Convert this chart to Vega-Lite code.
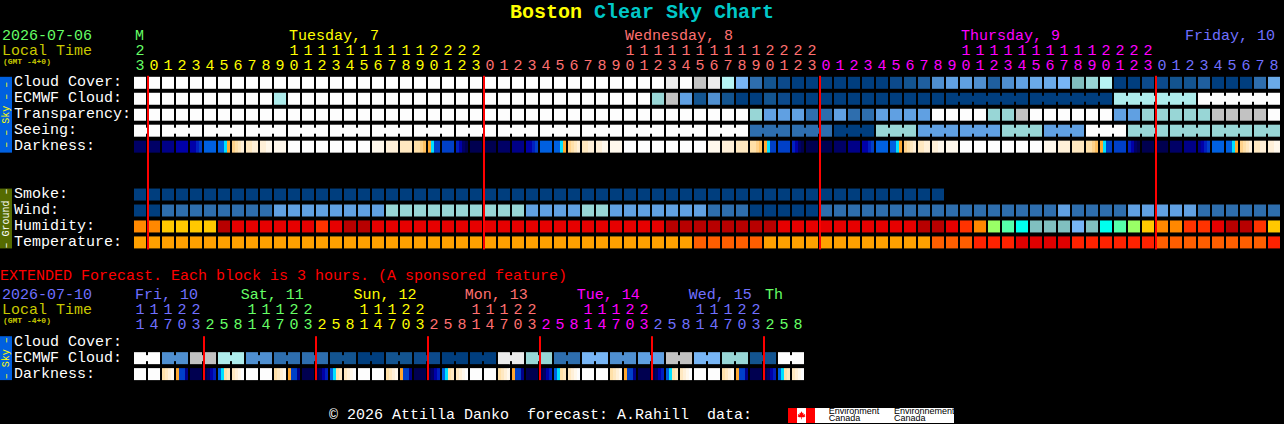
{
"$schema":"https://vega.github.io/schema/vega-lite/v6.json",
"width":1284,"height":424,"padding":0,
"autosize":{"type":"fit","contains":"padding"},
"background":"#000000",
"config":{"view":{"stroke":null}},
"datasets":{
"bands":[
{"t":-10,"t2":-9.143,"r":-0.375,"r2":4.375,"v":"sky"},
{"t":-10,"t2":-9.143,"r":6.625,"r2":10.375,"v":"ground"},
{"t":-10,"t2":-9.143,"r":15.875,"r2":18.625,"v":"sky"},
{"t":46.286,"t2":48.214,"r":20.375,"r2":21.3125,"v":"red"},
{"t":46.929,"t2":47.571,"r":20.375,"r2":21.3125,"v":"white"},
{"t":48.214,"t2":58.143,"r":20.375,"r2":21.3125,"v":"white"}
],
"cells":[
{"t":0,"r":0,"v":"o100"},{"t":1,"r":0,"v":"o100"},{"t":2,"r":0,"v":"o100"},{"t":3,"r":0,"v":"o100"},{"t":4,"r":0,"v":"o100"},{"t":5,"r":0,"v":"o100"},{"t":6,"r":0,"v":"o100"},{"t":7,"r":0,"v":"o100"},{"t":8,"r":0,"v":"o100"},{"t":9,"r":0,"v":"o100"},{"t":10,"r":0,"v":"o100"},{"t":11,"r":0,"v":"o100"},{"t":12,"r":0,"v":"o100"},{"t":13,"r":0,"v":"o100"},{"t":14,"r":0,"v":"o100"},{"t":15,"r":0,"v":"o100"},{"t":16,"r":0,"v":"o100"},{"t":17,"r":0,"v":"o100"},{"t":18,"r":0,"v":"o100"},{"t":19,"r":0,"v":"o100"},{"t":20,"r":0,"v":"o100"},{"t":21,"r":0,"v":"o100"},{"t":22,"r":0,"v":"o100"},{"t":23,"r":0,"v":"o100"},{"t":24,"r":0,"v":"o100"},{"t":25,"r":0,"v":"o100"},{"t":26,"r":0,"v":"o100"},{"t":27,"r":0,"v":"o100"},{"t":28,"r":0,"v":"o100"},{"t":29,"r":0,"v":"o100"},{"t":30,"r":0,"v":"o100"},{"t":31,"r":0,"v":"o100"},{"t":32,"r":0,"v":"o100"},{"t":33,"r":0,"v":"o100"},{"t":34,"r":0,"v":"o100"},{"t":35,"r":0,"v":"o100"},{"t":36,"r":0,"v":"o100"},{"t":37,"r":0,"v":"o100"},{"t":38,"r":0,"v":"o90"},{"t":39,"r":0,"v":"o100"},{"t":40,"r":0,"v":"o80"},{"t":41,"r":0,"v":"o90"},{"t":42,"r":0,"v":"o75"},{"t":43,"r":0,"v":"o55"},{"t":44,"r":0,"v":"o30"},{"t":45,"r":0,"v":"o20"},{"t":46,"r":0,"v":"o10"},{"t":47,"r":0,"v":"o0"},{"t":48,"r":0,"v":"o0"},{"t":49,"r":0,"v":"o0"},{"t":50,"r":0,"v":"o0"},{"t":51,"r":0,"v":"o0"},{"t":52,"r":0,"v":"o0"},{"t":53,"r":0,"v":"o0"},{"t":54,"r":0,"v":"o10"},{"t":55,"r":0,"v":"o20"},{"t":56,"r":0,"v":"o25"},{"t":57,"r":0,"v":"o40"},{"t":58,"r":0,"v":"o45"},{"t":59,"r":0,"v":"o45"},{"t":60,"r":0,"v":"o40"},{"t":61,"r":0,"v":"o25"},{"t":62,"r":0,"v":"o40"},{"t":63,"r":0,"v":"o45"},{"t":64,"r":0,"v":"o50"},{"t":65,"r":0,"v":"o50"},{"t":66,"r":0,"v":"o55"},{"t":67,"r":0,"v":"o60"},{"t":68,"r":0,"v":"o65"},{"t":69,"r":0,"v":"o75"},{"t":70,"r":0,"v":"o0"},{"t":71,"r":0,"v":"o0"},{"t":72,"r":0,"v":"o10"},{"t":73,"r":0,"v":"o10"},{"t":74,"r":0,"v":"o20"},{"t":75,"r":0,"v":"o20"},{"t":76,"r":0,"v":"o25"},{"t":77,"r":0,"v":"o0"},{"t":78,"r":0,"v":"o0"},{"t":79,"r":0,"v":"o0"},{"t":80,"r":0,"v":"o30"},{"t":81,"r":0,"v":"o50"},
{"t":0,"r":1,"v":"o100"},{"t":1,"r":1,"v":"o100"},{"t":2,"r":1,"v":"o100"},{"t":3,"r":1,"v":"o100"},{"t":4,"r":1,"v":"o100"},{"t":5,"r":1,"v":"o100"},{"t":6,"r":1,"v":"o100"},{"t":7,"r":1,"v":"o100"},{"t":8,"r":1,"v":"o100"},{"t":9,"r":1,"v":"o100"},{"t":10,"r":1,"v":"o70"},{"t":11,"r":1,"v":"o100"},{"t":12,"r":1,"v":"o100"},{"t":13,"r":1,"v":"o100"},{"t":14,"r":1,"v":"o100"},{"t":15,"r":1,"v":"o100"},{"t":16,"r":1,"v":"o100"},{"t":17,"r":1,"v":"o100"},{"t":18,"r":1,"v":"o100"},{"t":19,"r":1,"v":"o100"},{"t":20,"r":1,"v":"o100"},{"t":21,"r":1,"v":"o100"},{"t":22,"r":1,"v":"o100"},{"t":23,"r":1,"v":"o100"},{"t":24,"r":1,"v":"o100"},{"t":25,"r":1,"v":"o100"},{"t":26,"r":1,"v":"o100"},{"t":27,"r":1,"v":"o100"},{"t":28,"r":1,"v":"o100"},{"t":29,"r":1,"v":"o100"},{"t":30,"r":1,"v":"o100"},{"t":31,"r":1,"v":"o100"},{"t":32,"r":1,"v":"o100"},{"t":33,"r":1,"v":"o100"},{"t":34,"r":1,"v":"o100"},{"t":35,"r":1,"v":"o100"},{"t":36,"r":1,"v":"o100"},{"t":37,"r":1,"v":"o65"},{"t":38,"r":1,"v":"o80"},{"t":39,"r":1,"v":"o45"},{"t":40,"r":1,"v":"o20"},{"t":41,"r":1,"v":"o40"},{"t":42,"r":1,"v":"o20"},{"t":43,"r":1,"v":"o0"},{"t":44,"r":1,"v":"o0"},{"t":45,"r":1,"v":"o20"},{"t":46,"r":1,"v":"o10"},{"t":47,"r":1,"v":"o0"},{"t":48,"r":1,"v":"o0"},{"t":49,"r":1,"v":"o0"},{"t":50,"r":1,"v":"o0"},{"t":51,"r":1,"v":"o0"},{"t":52,"r":1,"v":"o0"},{"t":53,"r":1,"v":"o0"},{"t":54,"r":1,"v":"o0"},{"t":55,"r":1,"v":"o0"},{"t":56,"r":1,"v":"o0"},{"t":57,"r":1,"v":"o0"},{"t":58,"r":1,"v":"o0"},{"t":59,"r":1,"v":"o0"},{"t":60,"r":1,"v":"o0"},{"t":61,"r":1,"v":"o0"},{"t":62,"r":1,"v":"o0"},{"t":63,"r":1,"v":"o0"},{"t":64,"r":1,"v":"o0"},{"t":65,"r":1,"v":"o0"},{"t":66,"r":1,"v":"o0"},{"t":67,"r":1,"v":"o0"},{"t":68,"r":1,"v":"o0"},{"t":69,"r":1,"v":"o0"},{"t":70,"r":1,"v":"o70"},{"t":71,"r":1,"v":"o70"},{"t":72,"r":1,"v":"o70"},{"t":73,"r":1,"v":"o70"},{"t":74,"r":1,"v":"o70"},{"t":75,"r":1,"v":"o70"},{"t":76,"r":1,"v":"o100"},{"t":77,"r":1,"v":"o100"},{"t":78,"r":1,"v":"o100"},{"t":79,"r":1,"v":"o100"},{"t":80,"r":1,"v":"o100"},{"t":81,"r":1,"v":"o100"},
{"t":0,"r":2,"v":"o100"},{"t":1,"r":2,"v":"o100"},{"t":2,"r":2,"v":"o100"},{"t":3,"r":2,"v":"o100"},{"t":4,"r":2,"v":"o100"},{"t":5,"r":2,"v":"o100"},{"t":6,"r":2,"v":"o100"},{"t":7,"r":2,"v":"o100"},{"t":8,"r":2,"v":"o100"},{"t":9,"r":2,"v":"o100"},{"t":10,"r":2,"v":"o100"},{"t":11,"r":2,"v":"o100"},{"t":12,"r":2,"v":"o100"},{"t":13,"r":2,"v":"o100"},{"t":14,"r":2,"v":"o100"},{"t":15,"r":2,"v":"o100"},{"t":16,"r":2,"v":"o100"},{"t":17,"r":2,"v":"o100"},{"t":18,"r":2,"v":"o100"},{"t":19,"r":2,"v":"o100"},{"t":20,"r":2,"v":"o100"},{"t":21,"r":2,"v":"o100"},{"t":22,"r":2,"v":"o100"},{"t":23,"r":2,"v":"o100"},{"t":24,"r":2,"v":"o100"},{"t":25,"r":2,"v":"o100"},{"t":26,"r":2,"v":"o100"},{"t":27,"r":2,"v":"o100"},{"t":28,"r":2,"v":"o100"},{"t":29,"r":2,"v":"o100"},{"t":30,"r":2,"v":"o100"},{"t":31,"r":2,"v":"o100"},{"t":32,"r":2,"v":"o100"},{"t":33,"r":2,"v":"o100"},{"t":34,"r":2,"v":"o100"},{"t":35,"r":2,"v":"o100"},{"t":36,"r":2,"v":"o100"},{"t":37,"r":2,"v":"o100"},{"t":38,"r":2,"v":"o100"},{"t":39,"r":2,"v":"o100"},{"t":40,"r":2,"v":"o100"},{"t":41,"r":2,"v":"o100"},{"t":42,"r":2,"v":"o100"},{"t":43,"r":2,"v":"o100"},{"t":44,"r":2,"v":"o65"},{"t":45,"r":2,"v":"o45"},{"t":46,"r":2,"v":"o45"},{"t":47,"r":2,"v":"o45"},{"t":48,"r":2,"v":"o30"},{"t":49,"r":2,"v":"o30"},{"t":50,"r":2,"v":"o45"},{"t":51,"r":2,"v":"o30"},{"t":52,"r":2,"v":"o30"},{"t":53,"r":2,"v":"o45"},{"t":54,"r":2,"v":"o45"},{"t":55,"r":2,"v":"o45"},{"t":56,"r":2,"v":"o45"},{"t":57,"r":2,"v":"o100"},{"t":58,"r":2,"v":"o100"},{"t":59,"r":2,"v":"o100"},{"t":60,"r":2,"v":"o100"},{"t":61,"r":2,"v":"o65"},{"t":62,"r":2,"v":"o65"},{"t":63,"r":2,"v":"o80"},{"t":64,"r":2,"v":"o100"},{"t":65,"r":2,"v":"o100"},{"t":66,"r":2,"v":"o100"},{"t":67,"r":2,"v":"o100"},{"t":68,"r":2,"v":"o100"},{"t":69,"r":2,"v":"o100"},{"t":70,"r":2,"v":"o45"},{"t":71,"r":2,"v":"o45"},{"t":72,"r":2,"v":"o65"},{"t":73,"r":2,"v":"o65"},{"t":74,"r":2,"v":"o65"},{"t":75,"r":2,"v":"o65"},{"t":76,"r":2,"v":"o65"},{"t":77,"r":2,"v":"o80"},{"t":78,"r":2,"v":"o80"},{"t":79,"r":2,"v":"o80"},{"t":80,"r":2,"v":"o80"},{"t":81,"r":2,"v":"o100"},
{"t":0,"r":3,"v":"o100"},{"t":1,"r":3,"v":"o100"},{"t":2,"r":3,"v":"o100"},{"t":3,"r":3,"v":"o100"},{"t":4,"r":3,"v":"o100"},{"t":5,"r":3,"v":"o100"},{"t":6,"r":3,"v":"o100"},{"t":7,"r":3,"v":"o100"},{"t":8,"r":3,"v":"o100"},{"t":9,"r":3,"v":"o100"},{"t":10,"r":3,"v":"o100"},{"t":11,"r":3,"v":"o100"},{"t":12,"r":3,"v":"o100"},{"t":13,"r":3,"v":"o100"},{"t":14,"r":3,"v":"o100"},{"t":15,"r":3,"v":"o100"},{"t":16,"r":3,"v":"o100"},{"t":17,"r":3,"v":"o100"},{"t":18,"r":3,"v":"o100"},{"t":19,"r":3,"v":"o100"},{"t":20,"r":3,"v":"o100"},{"t":21,"r":3,"v":"o100"},{"t":22,"r":3,"v":"o100"},{"t":23,"r":3,"v":"o100"},{"t":24,"r":3,"v":"o100"},{"t":25,"r":3,"v":"o100"},{"t":26,"r":3,"v":"o100"},{"t":27,"r":3,"v":"o100"},{"t":28,"r":3,"v":"o100"},{"t":29,"r":3,"v":"o100"},{"t":30,"r":3,"v":"o100"},{"t":31,"r":3,"v":"o100"},{"t":32,"r":3,"v":"o100"},{"t":33,"r":3,"v":"o100"},{"t":34,"r":3,"v":"o100"},{"t":35,"r":3,"v":"o100"},{"t":36,"r":3,"v":"o100"},{"t":37,"r":3,"v":"o100"},{"t":38,"r":3,"v":"o100"},{"t":39,"r":3,"v":"o100"},{"t":40,"r":3,"v":"o100"},{"t":41,"r":3,"v":"o100"},{"t":42,"r":3,"v":"o100"},{"t":43,"r":3,"v":"o100"},{"t":44,"r":3,"v":"o30"},{"t":45,"r":3,"v":"o30"},{"t":46,"r":3,"v":"o30"},{"t":47,"r":3,"v":"o30"},{"t":48,"r":3,"v":"o30"},{"t":49,"r":3,"v":"o30"},{"t":50,"r":3,"v":"o0"},{"t":51,"r":3,"v":"o0"},{"t":52,"r":3,"v":"o0"},{"t":53,"r":3,"v":"o65"},{"t":54,"r":3,"v":"o65"},{"t":55,"r":3,"v":"o65"},{"t":56,"r":3,"v":"o45"},{"t":57,"r":3,"v":"o45"},{"t":58,"r":3,"v":"o45"},{"t":59,"r":3,"v":"o45"},{"t":60,"r":3,"v":"o45"},{"t":61,"r":3,"v":"o45"},{"t":62,"r":3,"v":"o65"},{"t":63,"r":3,"v":"o65"},{"t":64,"r":3,"v":"o65"},{"t":65,"r":3,"v":"o45"},{"t":66,"r":3,"v":"o45"},{"t":67,"r":3,"v":"o45"},{"t":68,"r":3,"v":"o100"},{"t":69,"r":3,"v":"o100"},{"t":70,"r":3,"v":"o100"},{"t":71,"r":3,"v":"o65"},{"t":72,"r":3,"v":"o65"},{"t":73,"r":3,"v":"o65"},{"t":74,"r":3,"v":"o65"},{"t":75,"r":3,"v":"o65"},{"t":76,"r":3,"v":"o65"},{"t":77,"r":3,"v":"o65"},{"t":78,"r":3,"v":"o65"},{"t":79,"r":3,"v":"o65"},{"t":80,"r":3,"v":"o65"},{"t":81,"r":3,"v":"o65"},
{"t":0,"r":4,"v":"d1"},{"t":1,"r":4,"v":"d1"},{"t":2,"r":4,"v":"d2"},{"t":3,"r":4,"v":"d3"},{"t":5,"r":4,"v":"d6"},{"t":10,"r":4,"v":"s6"},{"t":11,"r":4,"v":"o100"},{"t":12,"r":4,"v":"o100"},{"t":13,"r":4,"v":"o100"},{"t":14,"r":4,"v":"o100"},{"t":15,"r":4,"v":"o100"},{"t":16,"r":4,"v":"o100"},{"t":17,"r":4,"v":"s6"},{"t":18,"r":4,"v":"s5"},{"t":19,"r":4,"v":"s4"},{"t":22,"r":4,"v":"d5"},{"t":24,"r":4,"v":"d0"},{"t":25,"r":4,"v":"d0"},{"t":26,"r":4,"v":"d1"},{"t":27,"r":4,"v":"d2"},{"t":29,"r":4,"v":"d6"},{"t":34,"r":4,"v":"s6"},{"t":35,"r":4,"v":"o100"},{"t":36,"r":4,"v":"o100"},{"t":37,"r":4,"v":"o100"},{"t":38,"r":4,"v":"o100"},{"t":39,"r":4,"v":"o100"},{"t":40,"r":4,"v":"o100"},{"t":41,"r":4,"v":"s6"},{"t":42,"r":4,"v":"s5"},{"t":43,"r":4,"v":"s4"},{"t":46,"r":4,"v":"d5"},{"t":48,"r":4,"v":"d0"},{"t":49,"r":4,"v":"d0"},{"t":50,"r":4,"v":"d1"},{"t":51,"r":4,"v":"d2"},{"t":53,"r":4,"v":"d6"},{"t":58,"r":4,"v":"s6"},{"t":59,"r":4,"v":"o100"},{"t":60,"r":4,"v":"o100"},{"t":61,"r":4,"v":"o100"},{"t":62,"r":4,"v":"o100"},{"t":63,"r":4,"v":"o100"},{"t":64,"r":4,"v":"o100"},{"t":65,"r":4,"v":"s6"},{"t":66,"r":4,"v":"s5"},{"t":67,"r":4,"v":"s4"},{"t":70,"r":4,"v":"d5"},{"t":72,"r":4,"v":"d0"},{"t":73,"r":4,"v":"d0"},{"t":74,"r":4,"v":"d1"},{"t":75,"r":4,"v":"d2"},{"t":77,"r":4,"v":"d6"},
{"t":0,"r":7,"v":"o0"},{"t":1,"r":7,"v":"o0"},{"t":2,"r":7,"v":"o0"},{"t":3,"r":7,"v":"o0"},{"t":4,"r":7,"v":"o0"},{"t":5,"r":7,"v":"o0"},{"t":6,"r":7,"v":"o0"},{"t":7,"r":7,"v":"o0"},{"t":8,"r":7,"v":"o0"},{"t":9,"r":7,"v":"o0"},{"t":10,"r":7,"v":"o0"},{"t":11,"r":7,"v":"o0"},{"t":12,"r":7,"v":"o0"},{"t":13,"r":7,"v":"o0"},{"t":14,"r":7,"v":"o0"},{"t":15,"r":7,"v":"o0"},{"t":16,"r":7,"v":"o0"},{"t":17,"r":7,"v":"o0"},{"t":18,"r":7,"v":"o0"},{"t":19,"r":7,"v":"o0"},{"t":20,"r":7,"v":"o0"},{"t":21,"r":7,"v":"o0"},{"t":22,"r":7,"v":"o0"},{"t":23,"r":7,"v":"o0"},{"t":24,"r":7,"v":"o0"},{"t":25,"r":7,"v":"o0"},{"t":26,"r":7,"v":"o0"},{"t":27,"r":7,"v":"o0"},{"t":28,"r":7,"v":"o0"},{"t":29,"r":7,"v":"o0"},{"t":30,"r":7,"v":"o0"},{"t":31,"r":7,"v":"o0"},{"t":32,"r":7,"v":"o0"},{"t":33,"r":7,"v":"o0"},{"t":34,"r":7,"v":"o0"},{"t":35,"r":7,"v":"o0"},{"t":36,"r":7,"v":"o0"},{"t":37,"r":7,"v":"o0"},{"t":38,"r":7,"v":"o0"},{"t":39,"r":7,"v":"o0"},{"t":40,"r":7,"v":"o0"},{"t":41,"r":7,"v":"o0"},{"t":42,"r":7,"v":"o0"},{"t":43,"r":7,"v":"o0"},{"t":44,"r":7,"v":"o0"},{"t":45,"r":7,"v":"o0"},{"t":46,"r":7,"v":"o0"},{"t":47,"r":7,"v":"o0"},{"t":48,"r":7,"v":"o0"},{"t":49,"r":7,"v":"o0"},{"t":50,"r":7,"v":"o0"},{"t":51,"r":7,"v":"o0"},{"t":52,"r":7,"v":"o0"},{"t":53,"r":7,"v":"o0"},{"t":54,"r":7,"v":"o0"},{"t":55,"r":7,"v":"o0"},{"t":56,"r":7,"v":"o0"},{"t":57,"r":7,"v":"o0"},
{"t":0,"r":8,"v":"o0"},{"t":1,"r":8,"v":"o0"},{"t":2,"r":8,"v":"o30"},{"t":3,"r":8,"v":"o30"},{"t":4,"r":8,"v":"o30"},{"t":5,"r":8,"v":"o30"},{"t":6,"r":8,"v":"o30"},{"t":7,"r":8,"v":"o30"},{"t":8,"r":8,"v":"o30"},{"t":9,"r":8,"v":"o30"},{"t":10,"r":8,"v":"o45"},{"t":11,"r":8,"v":"o45"},{"t":12,"r":8,"v":"o45"},{"t":13,"r":8,"v":"o45"},{"t":14,"r":8,"v":"o45"},{"t":15,"r":8,"v":"o45"},{"t":16,"r":8,"v":"o45"},{"t":17,"r":8,"v":"o45"},{"t":18,"r":8,"v":"o65"},{"t":19,"r":8,"v":"o65"},{"t":20,"r":8,"v":"o65"},{"t":21,"r":8,"v":"o65"},{"t":22,"r":8,"v":"o65"},{"t":23,"r":8,"v":"o65"},{"t":24,"r":8,"v":"o65"},{"t":25,"r":8,"v":"o65"},{"t":26,"r":8,"v":"o65"},{"t":27,"r":8,"v":"o65"},{"t":28,"r":8,"v":"o45"},{"t":29,"r":8,"v":"o45"},{"t":30,"r":8,"v":"o45"},{"t":31,"r":8,"v":"o45"},{"t":32,"r":8,"v":"o65"},{"t":33,"r":8,"v":"o65"},{"t":34,"r":8,"v":"o45"},{"t":35,"r":8,"v":"o45"},{"t":36,"r":8,"v":"o45"},{"t":37,"r":8,"v":"o45"},{"t":38,"r":8,"v":"o45"},{"t":39,"r":8,"v":"o45"},{"t":40,"r":8,"v":"o45"},{"t":41,"r":8,"v":"o30"},{"t":42,"r":8,"v":"o30"},{"t":43,"r":8,"v":"o30"},{"t":44,"r":8,"v":"o0"},{"t":45,"r":8,"v":"o0"},{"t":46,"r":8,"v":"o0"},{"t":47,"r":8,"v":"o0"},{"t":48,"r":8,"v":"o0"},{"t":49,"r":8,"v":"o30"},{"t":50,"r":8,"v":"o30"},{"t":51,"r":8,"v":"o30"},{"t":52,"r":8,"v":"o30"},{"t":53,"r":8,"v":"o30"},{"t":54,"r":8,"v":"o30"},{"t":55,"r":8,"v":"o30"},{"t":56,"r":8,"v":"o30"},{"t":57,"r":8,"v":"o30"},{"t":58,"r":8,"v":"o30"},{"t":59,"r":8,"v":"o30"},{"t":60,"r":8,"v":"o30"},{"t":61,"r":8,"v":"o30"},{"t":62,"r":8,"v":"o30"},{"t":63,"r":8,"v":"o30"},{"t":64,"r":8,"v":"o30"},{"t":65,"r":8,"v":"o30"},{"t":66,"r":8,"v":"o45"},{"t":67,"r":8,"v":"o30"},{"t":68,"r":8,"v":"o30"},{"t":69,"r":8,"v":"o30"},{"t":70,"r":8,"v":"o30"},{"t":71,"r":8,"v":"o45"},{"t":72,"r":8,"v":"o45"},{"t":73,"r":8,"v":"o45"},{"t":74,"r":8,"v":"o45"},{"t":75,"r":8,"v":"o45"},{"t":76,"r":8,"v":"o30"},{"t":77,"r":8,"v":"o30"},{"t":78,"r":8,"v":"o30"},{"t":79,"r":8,"v":"o30"},{"t":80,"r":8,"v":"o30"},{"t":81,"r":8,"v":"o30"},
{"t":0,"r":9,"v":"ho"},{"t":1,"r":9,"v":"ho"},{"t":2,"r":9,"v":"hy"},{"t":3,"r":9,"v":"hy"},{"t":4,"r":9,"v":"hy"},{"t":5,"r":9,"v":"hy"},{"t":6,"r":9,"v":"hd"},{"t":7,"r":9,"v":"hr"},{"t":8,"r":9,"v":"hr"},{"t":9,"r":9,"v":"hr"},{"t":10,"r":9,"v":"hr"},{"t":11,"r":9,"v":"hr"},{"t":12,"r":9,"v":"hr"},{"t":13,"r":9,"v":"hf"},{"t":14,"r":9,"v":"hr"},{"t":15,"r":9,"v":"hd"},{"t":16,"r":9,"v":"hd"},{"t":17,"r":9,"v":"hr"},{"t":18,"r":9,"v":"hr"},{"t":19,"r":9,"v":"hr"},{"t":20,"r":9,"v":"hr"},{"t":21,"r":9,"v":"hr"},{"t":22,"r":9,"v":"hr"},{"t":23,"r":9,"v":"hr"},{"t":24,"r":9,"v":"hr"},{"t":25,"r":9,"v":"hr"},{"t":26,"r":9,"v":"hr"},{"t":27,"r":9,"v":"hr"},{"t":28,"r":9,"v":"hr"},{"t":29,"r":9,"v":"hr"},{"t":30,"r":9,"v":"hr"},{"t":31,"r":9,"v":"hr"},{"t":32,"r":9,"v":"hr"},{"t":33,"r":9,"v":"hr"},{"t":34,"r":9,"v":"hr"},{"t":35,"r":9,"v":"hr"},{"t":36,"r":9,"v":"hr"},{"t":37,"r":9,"v":"hr"},{"t":38,"r":9,"v":"hd"},{"t":39,"r":9,"v":"hd"},{"t":40,"r":9,"v":"hd"},{"t":41,"r":9,"v":"hd"},{"t":42,"r":9,"v":"hd"},{"t":43,"r":9,"v":"hd"},{"t":44,"r":9,"v":"hd"},{"t":45,"r":9,"v":"hd"},{"t":46,"r":9,"v":"hr"},{"t":47,"r":9,"v":"hr"},{"t":48,"r":9,"v":"hr"},{"t":49,"r":9,"v":"hr"},{"t":50,"r":9,"v":"hr"},{"t":51,"r":9,"v":"hr"},{"t":52,"r":9,"v":"hr"},{"t":53,"r":9,"v":"hr"},{"t":54,"r":9,"v":"hr"},{"t":55,"r":9,"v":"hr"},{"t":56,"r":9,"v":"hd"},{"t":57,"r":9,"v":"hd"},{"t":58,"r":9,"v":"hr"},{"t":59,"r":9,"v":"hf"},{"t":60,"r":9,"v":"ho"},{"t":61,"r":9,"v":"hl"},{"t":62,"r":9,"v":"hm"},{"t":63,"r":9,"v":"hc"},{"t":64,"r":9,"v":"ht"},{"t":65,"r":9,"v":"ht"},{"t":66,"r":9,"v":"ht"},{"t":67,"r":9,"v":"o55"},{"t":68,"r":9,"v":"ht"},{"t":69,"r":9,"v":"hc"},{"t":70,"r":9,"v":"hm"},{"t":71,"r":9,"v":"hl"},{"t":72,"r":9,"v":"hy"},{"t":73,"r":9,"v":"ho"},{"t":74,"r":9,"v":"ho"},{"t":75,"r":9,"v":"hf"},{"t":76,"r":9,"v":"hf"},{"t":77,"r":9,"v":"hr"},{"t":78,"r":9,"v":"hd"},{"t":79,"r":9,"v":"hd"},{"t":80,"r":9,"v":"hf"},{"t":81,"r":9,"v":"hy"},
{"t":0,"r":10,"v":"to"},{"t":1,"r":10,"v":"to"},{"t":2,"r":10,"v":"to"},{"t":3,"r":10,"v":"to"},{"t":4,"r":10,"v":"to"},{"t":5,"r":10,"v":"to"},{"t":6,"r":10,"v":"to"},{"t":7,"r":10,"v":"to"},{"t":8,"r":10,"v":"to"},{"t":9,"r":10,"v":"to"},{"t":10,"r":10,"v":"to"},{"t":11,"r":10,"v":"to"},{"t":12,"r":10,"v":"to"},{"t":13,"r":10,"v":"to"},{"t":14,"r":10,"v":"to"},{"t":15,"r":10,"v":"to"},{"t":16,"r":10,"v":"to"},{"t":17,"r":10,"v":"to"},{"t":18,"r":10,"v":"to"},{"t":19,"r":10,"v":"to"},{"t":20,"r":10,"v":"to"},{"t":21,"r":10,"v":"to"},{"t":22,"r":10,"v":"to"},{"t":23,"r":10,"v":"to"},{"t":24,"r":10,"v":"to"},{"t":25,"r":10,"v":"to"},{"t":26,"r":10,"v":"to"},{"t":27,"r":10,"v":"to"},{"t":28,"r":10,"v":"to"},{"t":29,"r":10,"v":"to"},{"t":30,"r":10,"v":"to"},{"t":31,"r":10,"v":"to"},{"t":32,"r":10,"v":"to"},{"t":33,"r":10,"v":"to"},{"t":34,"r":10,"v":"to"},{"t":35,"r":10,"v":"to"},{"t":36,"r":10,"v":"to"},{"t":37,"r":10,"v":"to"},{"t":38,"r":10,"v":"to"},{"t":39,"r":10,"v":"to"},{"t":40,"r":10,"v":"td"},{"t":41,"r":10,"v":"td"},{"t":42,"r":10,"v":"td"},{"t":43,"r":10,"v":"td"},{"t":44,"r":10,"v":"td"},{"t":45,"r":10,"v":"to"},{"t":46,"r":10,"v":"to"},{"t":47,"r":10,"v":"to"},{"t":48,"r":10,"v":"to"},{"t":49,"r":10,"v":"to"},{"t":50,"r":10,"v":"to"},{"t":51,"r":10,"v":"to"},{"t":52,"r":10,"v":"to"},{"t":53,"r":10,"v":"to"},{"t":54,"r":10,"v":"to"},{"t":55,"r":10,"v":"to"},{"t":56,"r":10,"v":"to"},{"t":57,"r":10,"v":"td"},{"t":58,"r":10,"v":"td"},{"t":59,"r":10,"v":"td"},{"t":60,"r":10,"v":"tf"},{"t":61,"r":10,"v":"tf"},{"t":62,"r":10,"v":"tf"},{"t":63,"r":10,"v":"tr"},{"t":64,"r":10,"v":"tr"},{"t":65,"r":10,"v":"tr"},{"t":66,"r":10,"v":"tr"},{"t":67,"r":10,"v":"tf"},{"t":68,"r":10,"v":"tf"},{"t":69,"r":10,"v":"tf"},{"t":70,"r":10,"v":"tf"},{"t":71,"r":10,"v":"tf"},{"t":72,"r":10,"v":"tf"},{"t":73,"r":10,"v":"td"},{"t":74,"r":10,"v":"td"},{"t":75,"r":10,"v":"td"},{"t":76,"r":10,"v":"td"},{"t":77,"r":10,"v":"td"},{"t":78,"r":10,"v":"td"},{"t":79,"r":10,"v":"td"},{"t":80,"r":10,"v":"td"},{"t":81,"r":10,"v":"tf"},
{"t":0,"r":17.25,"v":"o100"},{"t":1,"r":17.25,"v":"o100"},{"t":2,"r":17.25,"v":"o40"},{"t":3,"r":17.25,"v":"o40"},{"t":4,"r":17.25,"v":"o80"},{"t":5,"r":17.25,"v":"o80"},{"t":6,"r":17.25,"v":"o70"},{"t":7,"r":17.25,"v":"o70"},{"t":8,"r":17.25,"v":"o40"},{"t":9,"r":17.25,"v":"o40"},{"t":10,"r":17.25,"v":"o30"},{"t":11,"r":17.25,"v":"o30"},{"t":12,"r":17.25,"v":"o30"},{"t":13,"r":17.25,"v":"o30"},{"t":14,"r":17.25,"v":"o20"},{"t":15,"r":17.25,"v":"o20"},{"t":16,"r":17.25,"v":"o0"},{"t":17,"r":17.25,"v":"o0"},{"t":18,"r":17.25,"v":"o20"},{"t":19,"r":17.25,"v":"o20"},{"t":20,"r":17.25,"v":"o10"},{"t":21,"r":17.25,"v":"o10"},{"t":22,"r":17.25,"v":"o0"},{"t":23,"r":17.25,"v":"o0"},{"t":24,"r":17.25,"v":"o0"},{"t":25,"r":17.25,"v":"o0"},{"t":26,"r":17.25,"v":"o90"},{"t":27,"r":17.25,"v":"o90"},{"t":28,"r":17.25,"v":"o65"},{"t":29,"r":17.25,"v":"o65"},{"t":30,"r":17.25,"v":"o30"},{"t":31,"r":17.25,"v":"o30"},{"t":32,"r":17.25,"v":"o55"},{"t":33,"r":17.25,"v":"o55"},{"t":34,"r":17.25,"v":"o40"},{"t":35,"r":17.25,"v":"o40"},{"t":36,"r":17.25,"v":"o45"},{"t":37,"r":17.25,"v":"o45"},{"t":38,"r":17.25,"v":"o80"},{"t":39,"r":17.25,"v":"o80"},{"t":40,"r":17.25,"v":"o55"},{"t":41,"r":17.25,"v":"o55"},{"t":42,"r":17.25,"v":"o65"},{"t":43,"r":17.25,"v":"o65"},{"t":44,"r":17.25,"v":"o20"},{"t":45,"r":17.25,"v":"o20"},{"t":46,"r":17.25,"v":"o100"},{"t":47,"r":17.25,"v":"o100"},
{"t":0,"r":18.25,"v":"o100"},{"t":1,"r":18.25,"v":"o100"},{"t":4,"r":18.25,"v":"d0"},{"t":8,"r":18.25,"v":"o100"},{"t":9,"r":18.25,"v":"o100"},{"t":12,"r":18.25,"v":"d0"},{"t":16,"r":18.25,"v":"o100"},{"t":17,"r":18.25,"v":"o100"},{"t":20,"r":18.25,"v":"d0"},{"t":24,"r":18.25,"v":"o100"},{"t":25,"r":18.25,"v":"o100"},{"t":28,"r":18.25,"v":"d0"},{"t":32,"r":18.25,"v":"o100"},{"t":33,"r":18.25,"v":"o100"},{"t":36,"r":18.25,"v":"d0"},{"t":40,"r":18.25,"v":"o100"},{"t":41,"r":18.25,"v":"o100"},{"t":44,"r":18.25,"v":"d0"}
],
"links":[
{"t":0.5,"r":3,"v":"o100"},{"t":2.5,"r":3,"v":"o100"},{"t":3.5,"r":3,"v":"o100"},{"t":5.5,"r":3,"v":"o100"},{"t":6.5,"r":3,"v":"o100"},{"t":8.5,"r":3,"v":"o100"},{"t":9.5,"r":3,"v":"o100"},{"t":11.5,"r":3,"v":"o100"},{"t":12.5,"r":3,"v":"o100"},{"t":14.5,"r":3,"v":"o100"},{"t":15.5,"r":3,"v":"o100"},{"t":17.5,"r":3,"v":"o100"},{"t":18.5,"r":3,"v":"o100"},{"t":20.5,"r":3,"v":"o100"},{"t":21.5,"r":3,"v":"o100"},{"t":23.5,"r":3,"v":"o100"},{"t":24.5,"r":3,"v":"o100"},{"t":26.5,"r":3,"v":"o100"},{"t":27.5,"r":3,"v":"o100"},{"t":29.5,"r":3,"v":"o100"},{"t":30.5,"r":3,"v":"o100"},{"t":32.5,"r":3,"v":"o100"},{"t":33.5,"r":3,"v":"o100"},{"t":35.5,"r":3,"v":"o100"},{"t":36.5,"r":3,"v":"o100"},{"t":38.5,"r":3,"v":"o100"},{"t":39.5,"r":3,"v":"o100"},{"t":41.5,"r":3,"v":"o100"},{"t":42.5,"r":3,"v":"o100"},{"t":44.5,"r":3,"v":"o30"},{"t":45.5,"r":3,"v":"o30"},{"t":47.5,"r":3,"v":"o30"},{"t":48.5,"r":3,"v":"o30"},{"t":50.5,"r":3,"v":"o0"},{"t":51.5,"r":3,"v":"o0"},{"t":53.5,"r":3,"v":"o65"},{"t":54.5,"r":3,"v":"o65"},{"t":56.5,"r":3,"v":"o45"},{"t":57.5,"r":3,"v":"o45"},{"t":59.5,"r":3,"v":"o45"},{"t":60.5,"r":3,"v":"o45"},{"t":62.5,"r":3,"v":"o65"},{"t":63.5,"r":3,"v":"o65"},{"t":65.5,"r":3,"v":"o45"},{"t":66.5,"r":3,"v":"o45"},{"t":68.5,"r":3,"v":"o100"},{"t":69.5,"r":3,"v":"o100"},{"t":71.5,"r":3,"v":"o65"},{"t":72.5,"r":3,"v":"o65"},{"t":74.5,"r":3,"v":"o65"},{"t":75.5,"r":3,"v":"o65"},{"t":77.5,"r":3,"v":"o65"},{"t":78.5,"r":3,"v":"o65"},{"t":80.5,"r":3,"v":"o65"},
{"t":58.5,"r":1,"v":"o0"},{"t":59.5,"r":1,"v":"o0"},{"t":60.5,"r":1,"v":"o0"},{"t":61.5,"r":1,"v":"o0"},{"t":62.5,"r":1,"v":"o0"},{"t":64.5,"r":1,"v":"o0"},{"t":65.5,"r":1,"v":"o0"},{"t":66.5,"r":1,"v":"o0"},{"t":67.5,"r":1,"v":"o0"},{"t":68.5,"r":1,"v":"o0"},{"t":70.5,"r":1,"v":"o70"},{"t":71.5,"r":1,"v":"o70"},{"t":72.5,"r":1,"v":"o70"},{"t":73.5,"r":1,"v":"o70"},{"t":74.5,"r":1,"v":"o70"},{"t":76.5,"r":1,"v":"o100"},{"t":77.5,"r":1,"v":"o100"},{"t":78.5,"r":1,"v":"o100"},{"t":79.5,"r":1,"v":"o100"},{"t":80.5,"r":1,"v":"o100"},
{"t":0.5,"r":17.25,"v":"o100"},{"t":2.5,"r":17.25,"v":"o40"},{"t":4.5,"r":17.25,"v":"o80"},{"t":6.5,"r":17.25,"v":"o70"},{"t":8.5,"r":17.25,"v":"o40"},{"t":10.5,"r":17.25,"v":"o30"},{"t":12.5,"r":17.25,"v":"o30"},{"t":14.5,"r":17.25,"v":"o20"},{"t":16.5,"r":17.25,"v":"o0"},{"t":18.5,"r":17.25,"v":"o20"},{"t":20.5,"r":17.25,"v":"o10"},{"t":22.5,"r":17.25,"v":"o0"},{"t":24.5,"r":17.25,"v":"o0"},{"t":26.5,"r":17.25,"v":"o90"},{"t":28.5,"r":17.25,"v":"o65"},{"t":30.5,"r":17.25,"v":"o30"},{"t":32.5,"r":17.25,"v":"o55"},{"t":34.5,"r":17.25,"v":"o40"},{"t":36.5,"r":17.25,"v":"o45"},{"t":38.5,"r":17.25,"v":"o80"},{"t":40.5,"r":17.25,"v":"o55"},{"t":42.5,"r":17.25,"v":"o65"},{"t":44.5,"r":17.25,"v":"o20"},{"t":46.5,"r":17.25,"v":"o100"}
],
"strips":[
{"t":3.679,"r":4,"v":"d3"},{"t":3.893,"r":4,"v":"d3"},{"t":4.107,"r":4,"v":"d4"},{"t":4.321,"r":4,"v":"d5"},
{"t":5.679,"r":4,"v":"d6"},{"t":5.893,"r":4,"v":"d6"},{"t":6.107,"r":4,"v":"cy"},{"t":6.321,"r":4,"v":"or"},
{"t":6.679,"r":4,"v":"s2"},{"t":6.893,"r":4,"v":"s3"},{"t":7.107,"r":4,"v":"s4"},{"t":7.321,"r":4,"v":"s5"},
{"t":7.679,"r":4,"v":"s4"},{"t":7.893,"r":4,"v":"s4"},{"t":8.107,"r":4,"v":"s5"},{"t":8.321,"r":4,"v":"s5"},
{"t":8.679,"r":4,"v":"s5"},{"t":8.893,"r":4,"v":"s5"},{"t":9.107,"r":4,"v":"s6"},{"t":9.321,"r":4,"v":"s6"},
{"t":19.679,"r":4,"v":"s3"},{"t":19.893,"r":4,"v":"s3"},{"t":20.107,"r":4,"v":"s2"},{"t":20.321,"r":4,"v":"s1"},
{"t":20.679,"r":4,"v":"or"},{"t":20.893,"r":4,"v":"cy"},{"t":21.107,"r":4,"v":"d5"},{"t":21.321,"r":4,"v":"d5"},
{"t":22.679,"r":4,"v":"d4"},{"t":22.893,"r":4,"v":"d3"},{"t":23.107,"r":4,"v":"d1"},{"t":23.321,"r":4,"v":"d0"},
{"t":27.679,"r":4,"v":"d3"},{"t":27.893,"r":4,"v":"d3"},{"t":28.107,"r":4,"v":"d4"},{"t":28.321,"r":4,"v":"d5"},
{"t":29.679,"r":4,"v":"d6"},{"t":29.893,"r":4,"v":"d6"},{"t":30.107,"r":4,"v":"cy"},{"t":30.321,"r":4,"v":"or"},
{"t":30.679,"r":4,"v":"s2"},{"t":30.893,"r":4,"v":"s3"},{"t":31.107,"r":4,"v":"s4"},{"t":31.321,"r":4,"v":"s5"},
{"t":31.679,"r":4,"v":"s4"},{"t":31.893,"r":4,"v":"s4"},{"t":32.107,"r":4,"v":"s5"},{"t":32.321,"r":4,"v":"s5"},
{"t":32.679,"r":4,"v":"s5"},{"t":32.893,"r":4,"v":"s5"},{"t":33.107,"r":4,"v":"s6"},{"t":33.321,"r":4,"v":"s6"},
{"t":43.679,"r":4,"v":"s3"},{"t":43.893,"r":4,"v":"s3"},{"t":44.107,"r":4,"v":"s2"},{"t":44.321,"r":4,"v":"s1"},
{"t":44.679,"r":4,"v":"or"},{"t":44.893,"r":4,"v":"cy"},{"t":45.107,"r":4,"v":"d5"},{"t":45.321,"r":4,"v":"d5"},
{"t":46.679,"r":4,"v":"d4"},{"t":46.893,"r":4,"v":"d3"},{"t":47.107,"r":4,"v":"d1"},{"t":47.321,"r":4,"v":"d0"},
{"t":51.679,"r":4,"v":"d3"},{"t":51.893,"r":4,"v":"d3"},{"t":52.107,"r":4,"v":"d4"},{"t":52.321,"r":4,"v":"d5"},
{"t":53.679,"r":4,"v":"d6"},{"t":53.893,"r":4,"v":"d6"},{"t":54.107,"r":4,"v":"cy"},{"t":54.321,"r":4,"v":"or"},
{"t":54.679,"r":4,"v":"s2"},{"t":54.893,"r":4,"v":"s3"},{"t":55.107,"r":4,"v":"s4"},{"t":55.321,"r":4,"v":"s5"},
{"t":55.679,"r":4,"v":"s4"},{"t":55.893,"r":4,"v":"s4"},{"t":56.107,"r":4,"v":"s5"},{"t":56.321,"r":4,"v":"s5"},
{"t":56.679,"r":4,"v":"s5"},{"t":56.893,"r":4,"v":"s5"},{"t":57.107,"r":4,"v":"s6"},{"t":57.321,"r":4,"v":"s6"},
{"t":67.679,"r":4,"v":"s3"},{"t":67.893,"r":4,"v":"s3"},{"t":68.107,"r":4,"v":"s2"},{"t":68.321,"r":4,"v":"s1"},
{"t":68.679,"r":4,"v":"or"},{"t":68.893,"r":4,"v":"cy"},{"t":69.107,"r":4,"v":"d5"},{"t":69.321,"r":4,"v":"d5"},
{"t":70.679,"r":4,"v":"d4"},{"t":70.893,"r":4,"v":"d3"},{"t":71.107,"r":4,"v":"d1"},{"t":71.321,"r":4,"v":"d0"},
{"t":75.679,"r":4,"v":"d2"},{"t":75.893,"r":4,"v":"d3"},{"t":76.107,"r":4,"v":"d4"},{"t":76.321,"r":4,"v":"d5"},
{"t":77.679,"r":4,"v":"d6"},{"t":77.893,"r":4,"v":"d6"},{"t":78.107,"r":4,"v":"cy"},{"t":78.321,"r":4,"v":"or"},
{"t":78.679,"r":4,"v":"s2"},{"t":78.893,"r":4,"v":"s3"},{"t":79.107,"r":4,"v":"s4"},{"t":79.321,"r":4,"v":"s5"},
{"t":79.679,"r":4,"v":"s4"},{"t":79.893,"r":4,"v":"s4"},{"t":80.107,"r":4,"v":"s5"},{"t":80.321,"r":4,"v":"s5"},
{"t":80.679,"r":4,"v":"s5"},{"t":80.893,"r":4,"v":"s5"},{"t":81.107,"r":4,"v":"s6"},{"t":81.321,"r":4,"v":"s6"},
{"t":1.679,"r":18.25,"v":"s3"},{"t":1.893,"r":18.25,"v":"s4"},{"t":2.107,"r":18.25,"v":"s5"},{"t":2.321,"r":18.25,"v":"s6"},
{"t":2.679,"r":18.25,"v":"or"},{"t":2.893,"r":18.25,"v":"d5"},{"t":3.107,"r":18.25,"v":"d5"},{"t":3.321,"r":18.25,"v":"d2"},
{"t":4.679,"r":18.25,"v":"d0"},{"t":4.893,"r":18.25,"v":"d1"},{"t":5.107,"r":18.25,"v":"d3"},{"t":5.321,"r":18.25,"v":"d4"},
{"t":5.679,"r":18.25,"v":"d6"},{"t":5.893,"r":18.25,"v":"cy"},{"t":6.107,"r":18.25,"v":"s3"},{"t":6.321,"r":18.25,"v":"s4"},
{"t":6.679,"r":18.25,"v":"s4"},{"t":6.893,"r":18.25,"v":"s5"},{"t":7.107,"r":18.25,"v":"s6"},{"t":7.321,"r":18.25,"v":"o100"},
{"t":9.679,"r":18.25,"v":"s3"},{"t":9.893,"r":18.25,"v":"s4"},{"t":10.107,"r":18.25,"v":"s5"},{"t":10.321,"r":18.25,"v":"s6"},
{"t":10.679,"r":18.25,"v":"or"},{"t":10.893,"r":18.25,"v":"d5"},{"t":11.107,"r":18.25,"v":"d5"},{"t":11.321,"r":18.25,"v":"d2"},
{"t":12.679,"r":18.25,"v":"d0"},{"t":12.893,"r":18.25,"v":"d1"},{"t":13.107,"r":18.25,"v":"d3"},{"t":13.321,"r":18.25,"v":"d4"},
{"t":13.679,"r":18.25,"v":"d6"},{"t":13.893,"r":18.25,"v":"cy"},{"t":14.107,"r":18.25,"v":"s3"},{"t":14.321,"r":18.25,"v":"s4"},
{"t":14.679,"r":18.25,"v":"s4"},{"t":14.893,"r":18.25,"v":"s5"},{"t":15.107,"r":18.25,"v":"s6"},{"t":15.321,"r":18.25,"v":"o100"},
{"t":17.679,"r":18.25,"v":"s3"},{"t":17.893,"r":18.25,"v":"s4"},{"t":18.107,"r":18.25,"v":"s5"},{"t":18.321,"r":18.25,"v":"s6"},
{"t":18.679,"r":18.25,"v":"or"},{"t":18.893,"r":18.25,"v":"d5"},{"t":19.107,"r":18.25,"v":"d5"},{"t":19.321,"r":18.25,"v":"d2"},
{"t":20.679,"r":18.25,"v":"d0"},{"t":20.893,"r":18.25,"v":"d1"},{"t":21.107,"r":18.25,"v":"d3"},{"t":21.321,"r":18.25,"v":"d4"},
{"t":21.679,"r":18.25,"v":"d6"},{"t":21.893,"r":18.25,"v":"cy"},{"t":22.107,"r":18.25,"v":"s3"},{"t":22.321,"r":18.25,"v":"s4"},
{"t":22.679,"r":18.25,"v":"s4"},{"t":22.893,"r":18.25,"v":"s5"},{"t":23.107,"r":18.25,"v":"s6"},{"t":23.321,"r":18.25,"v":"o100"},
{"t":25.679,"r":18.25,"v":"s3"},{"t":25.893,"r":18.25,"v":"s4"},{"t":26.107,"r":18.25,"v":"s5"},{"t":26.321,"r":18.25,"v":"s6"},
{"t":26.679,"r":18.25,"v":"or"},{"t":26.893,"r":18.25,"v":"d5"},{"t":27.107,"r":18.25,"v":"d5"},{"t":27.321,"r":18.25,"v":"d2"},
{"t":28.679,"r":18.25,"v":"d0"},{"t":28.893,"r":18.25,"v":"d1"},{"t":29.107,"r":18.25,"v":"d3"},{"t":29.321,"r":18.25,"v":"d4"},
{"t":29.679,"r":18.25,"v":"d6"},{"t":29.893,"r":18.25,"v":"cy"},{"t":30.107,"r":18.25,"v":"s3"},{"t":30.321,"r":18.25,"v":"s4"},
{"t":30.679,"r":18.25,"v":"s4"},{"t":30.893,"r":18.25,"v":"s5"},{"t":31.107,"r":18.25,"v":"s6"},{"t":31.321,"r":18.25,"v":"o100"},
{"t":33.679,"r":18.25,"v":"s3"},{"t":33.893,"r":18.25,"v":"s4"},{"t":34.107,"r":18.25,"v":"s5"},{"t":34.321,"r":18.25,"v":"s6"},
{"t":34.679,"r":18.25,"v":"or"},{"t":34.893,"r":18.25,"v":"d5"},{"t":35.107,"r":18.25,"v":"d5"},{"t":35.321,"r":18.25,"v":"d2"},
{"t":36.679,"r":18.25,"v":"d0"},{"t":36.893,"r":18.25,"v":"d1"},{"t":37.107,"r":18.25,"v":"d3"},{"t":37.321,"r":18.25,"v":"d4"},
{"t":37.679,"r":18.25,"v":"d6"},{"t":37.893,"r":18.25,"v":"cy"},{"t":38.107,"r":18.25,"v":"s3"},{"t":38.321,"r":18.25,"v":"s4"},
{"t":38.679,"r":18.25,"v":"s4"},{"t":38.893,"r":18.25,"v":"s5"},{"t":39.107,"r":18.25,"v":"s6"},{"t":39.321,"r":18.25,"v":"o100"},
{"t":41.679,"r":18.25,"v":"s3"},{"t":41.893,"r":18.25,"v":"s4"},{"t":42.107,"r":18.25,"v":"s5"},{"t":42.321,"r":18.25,"v":"s6"},
{"t":42.679,"r":18.25,"v":"or"},{"t":42.893,"r":18.25,"v":"d5"},{"t":43.107,"r":18.25,"v":"d5"},{"t":43.321,"r":18.25,"v":"d2"},
{"t":44.679,"r":18.25,"v":"d0"},{"t":44.893,"r":18.25,"v":"d1"},{"t":45.107,"r":18.25,"v":"d3"},{"t":45.321,"r":18.25,"v":"d4"},
{"t":45.679,"r":18.25,"v":"d6"},{"t":45.893,"r":18.25,"v":"cy"},{"t":46.107,"r":18.25,"v":"s3"},{"t":46.321,"r":18.25,"v":"s4"},
{"t":46.679,"r":18.25,"v":"s4"},{"t":46.893,"r":18.25,"v":"s5"},{"t":47.107,"r":18.25,"v":"s6"},{"t":47.321,"r":18.25,"v":"o100"}
],
"midnights":[
{"t":0.5714,"r":-0.44,"r2":10.44,"v":"red"},{"t":24.5714,"r":-0.44,"r2":10.44,"v":"red"},{"t":48.5714,"r":-0.44,"r2":10.44,"v":"red"},{"t":72.5714,"r":-0.44,"r2":10.44,"v":"red"},
{"t":4.5714,"r":15.875,"r2":18.625,"v":"red"},{"t":12.5714,"r":15.875,"r2":18.625,"v":"red"},{"t":20.5714,"r":15.875,"r2":18.625,"v":"red"},{"t":28.5714,"r":15.875,"r2":18.625,"v":"red"},{"t":36.5714,"r":15.875,"r2":18.625,"v":"red"},{"t":44.5714,"r":15.875,"r2":18.625,"v":"red"}
],
"digits":[
{"t":0,"r":-2.06,"v":"green","s":"2"},{"t":11,"r":-2.06,"v":"yellow","s":"1"},{"t":12,"r":-2.06,"v":"yellow","s":"1"},{"t":13,"r":-2.06,"v":"yellow","s":"1"},{"t":14,"r":-2.06,"v":"yellow","s":"1"},{"t":15,"r":-2.06,"v":"yellow","s":"1"},{"t":16,"r":-2.06,"v":"yellow","s":"1"},{"t":17,"r":-2.06,"v":"yellow","s":"1"},{"t":18,"r":-2.06,"v":"yellow","s":"1"},{"t":19,"r":-2.06,"v":"yellow","s":"1"},{"t":20,"r":-2.06,"v":"yellow","s":"1"},{"t":21,"r":-2.06,"v":"yellow","s":"2"},{"t":22,"r":-2.06,"v":"yellow","s":"2"},{"t":23,"r":-2.06,"v":"yellow","s":"2"},{"t":24,"r":-2.06,"v":"yellow","s":"2"},
{"t":35,"r":-2.06,"v":"salmon","s":"1"},{"t":36,"r":-2.06,"v":"salmon","s":"1"},{"t":37,"r":-2.06,"v":"salmon","s":"1"},{"t":38,"r":-2.06,"v":"salmon","s":"1"},{"t":39,"r":-2.06,"v":"salmon","s":"1"},{"t":40,"r":-2.06,"v":"salmon","s":"1"},{"t":41,"r":-2.06,"v":"salmon","s":"1"},{"t":42,"r":-2.06,"v":"salmon","s":"1"},{"t":43,"r":-2.06,"v":"salmon","s":"1"},{"t":44,"r":-2.06,"v":"salmon","s":"1"},{"t":45,"r":-2.06,"v":"salmon","s":"2"},{"t":46,"r":-2.06,"v":"salmon","s":"2"},{"t":47,"r":-2.06,"v":"salmon","s":"2"},{"t":48,"r":-2.06,"v":"salmon","s":"2"},
{"t":59,"r":-2.06,"v":"magenta","s":"1"},{"t":60,"r":-2.06,"v":"magenta","s":"1"},{"t":61,"r":-2.06,"v":"magenta","s":"1"},{"t":62,"r":-2.06,"v":"magenta","s":"1"},{"t":63,"r":-2.06,"v":"magenta","s":"1"},{"t":64,"r":-2.06,"v":"magenta","s":"1"},{"t":65,"r":-2.06,"v":"magenta","s":"1"},{"t":66,"r":-2.06,"v":"magenta","s":"1"},{"t":67,"r":-2.06,"v":"magenta","s":"1"},{"t":68,"r":-2.06,"v":"magenta","s":"1"},{"t":69,"r":-2.06,"v":"magenta","s":"2"},{"t":70,"r":-2.06,"v":"magenta","s":"2"},{"t":71,"r":-2.06,"v":"magenta","s":"2"},{"t":72,"r":-2.06,"v":"magenta","s":"2"},
{"t":0,"r":-1.125,"v":"green","s":"3"},{"t":1,"r":-1.125,"v":"yellow","s":"0"},{"t":2,"r":-1.125,"v":"yellow","s":"1"},{"t":3,"r":-1.125,"v":"yellow","s":"2"},{"t":4,"r":-1.125,"v":"yellow","s":"3"},{"t":5,"r":-1.125,"v":"yellow","s":"4"},{"t":6,"r":-1.125,"v":"yellow","s":"5"},{"t":7,"r":-1.125,"v":"yellow","s":"6"},{"t":8,"r":-1.125,"v":"yellow","s":"7"},{"t":9,"r":-1.125,"v":"yellow","s":"8"},{"t":10,"r":-1.125,"v":"yellow","s":"9"},{"t":11,"r":-1.125,"v":"yellow","s":"0"},{"t":12,"r":-1.125,"v":"yellow","s":"1"},{"t":13,"r":-1.125,"v":"yellow","s":"2"},{"t":14,"r":-1.125,"v":"yellow","s":"3"},{"t":15,"r":-1.125,"v":"yellow","s":"4"},{"t":16,"r":-1.125,"v":"yellow","s":"5"},{"t":17,"r":-1.125,"v":"yellow","s":"6"},{"t":18,"r":-1.125,"v":"yellow","s":"7"},{"t":19,"r":-1.125,"v":"yellow","s":"8"},{"t":20,"r":-1.125,"v":"yellow","s":"9"},{"t":21,"r":-1.125,"v":"yellow","s":"0"},{"t":22,"r":-1.125,"v":"yellow","s":"1"},{"t":23,"r":-1.125,"v":"yellow","s":"2"},{"t":24,"r":-1.125,"v":"yellow","s":"3"},
{"t":25,"r":-1.125,"v":"salmon","s":"0"},{"t":26,"r":-1.125,"v":"salmon","s":"1"},{"t":27,"r":-1.125,"v":"salmon","s":"2"},{"t":28,"r":-1.125,"v":"salmon","s":"3"},{"t":29,"r":-1.125,"v":"salmon","s":"4"},{"t":30,"r":-1.125,"v":"salmon","s":"5"},{"t":31,"r":-1.125,"v":"salmon","s":"6"},{"t":32,"r":-1.125,"v":"salmon","s":"7"},{"t":33,"r":-1.125,"v":"salmon","s":"8"},{"t":34,"r":-1.125,"v":"salmon","s":"9"},{"t":35,"r":-1.125,"v":"salmon","s":"0"},{"t":36,"r":-1.125,"v":"salmon","s":"1"},{"t":37,"r":-1.125,"v":"salmon","s":"2"},{"t":38,"r":-1.125,"v":"salmon","s":"3"},{"t":39,"r":-1.125,"v":"salmon","s":"4"},{"t":40,"r":-1.125,"v":"salmon","s":"5"},{"t":41,"r":-1.125,"v":"salmon","s":"6"},{"t":42,"r":-1.125,"v":"salmon","s":"7"},{"t":43,"r":-1.125,"v":"salmon","s":"8"},{"t":44,"r":-1.125,"v":"salmon","s":"9"},{"t":45,"r":-1.125,"v":"salmon","s":"0"},{"t":46,"r":-1.125,"v":"salmon","s":"1"},{"t":47,"r":-1.125,"v":"salmon","s":"2"},{"t":48,"r":-1.125,"v":"salmon","s":"3"},
{"t":49,"r":-1.125,"v":"magenta","s":"0"},{"t":50,"r":-1.125,"v":"magenta","s":"1"},{"t":51,"r":-1.125,"v":"magenta","s":"2"},{"t":52,"r":-1.125,"v":"magenta","s":"3"},{"t":53,"r":-1.125,"v":"magenta","s":"4"},{"t":54,"r":-1.125,"v":"magenta","s":"5"},{"t":55,"r":-1.125,"v":"magenta","s":"6"},{"t":56,"r":-1.125,"v":"magenta","s":"7"},{"t":57,"r":-1.125,"v":"magenta","s":"8"},{"t":58,"r":-1.125,"v":"magenta","s":"9"},{"t":59,"r":-1.125,"v":"magenta","s":"0"},{"t":60,"r":-1.125,"v":"magenta","s":"1"},{"t":61,"r":-1.125,"v":"magenta","s":"2"},{"t":62,"r":-1.125,"v":"magenta","s":"3"},{"t":63,"r":-1.125,"v":"magenta","s":"4"},{"t":64,"r":-1.125,"v":"magenta","s":"5"},{"t":65,"r":-1.125,"v":"magenta","s":"6"},{"t":66,"r":-1.125,"v":"magenta","s":"7"},{"t":67,"r":-1.125,"v":"magenta","s":"8"},{"t":68,"r":-1.125,"v":"magenta","s":"9"},{"t":69,"r":-1.125,"v":"magenta","s":"0"},{"t":70,"r":-1.125,"v":"magenta","s":"1"},{"t":71,"r":-1.125,"v":"magenta","s":"2"},{"t":72,"r":-1.125,"v":"magenta","s":"3"},
{"t":73,"r":-1.125,"v":"violet","s":"0"},{"t":74,"r":-1.125,"v":"violet","s":"1"},{"t":75,"r":-1.125,"v":"violet","s":"2"},{"t":76,"r":-1.125,"v":"violet","s":"3"},{"t":77,"r":-1.125,"v":"violet","s":"4"},{"t":78,"r":-1.125,"v":"violet","s":"5"},{"t":79,"r":-1.125,"v":"violet","s":"6"},{"t":80,"r":-1.125,"v":"violet","s":"7"},{"t":81,"r":-1.125,"v":"violet","s":"8"},
{"t":0,"r":14.19,"v":"violet","s":"1"},{"t":1,"r":14.19,"v":"violet","s":"1"},{"t":2,"r":14.19,"v":"violet","s":"1"},{"t":3,"r":14.19,"v":"violet","s":"2"},{"t":4,"r":14.19,"v":"violet","s":"2"},
{"t":8,"r":14.19,"v":"green","s":"1"},{"t":9,"r":14.19,"v":"green","s":"1"},{"t":10,"r":14.19,"v":"green","s":"1"},{"t":11,"r":14.19,"v":"green","s":"2"},{"t":12,"r":14.19,"v":"green","s":"2"},
{"t":16,"r":14.19,"v":"yellow","s":"1"},{"t":17,"r":14.19,"v":"yellow","s":"1"},{"t":18,"r":14.19,"v":"yellow","s":"1"},{"t":19,"r":14.19,"v":"yellow","s":"2"},{"t":20,"r":14.19,"v":"yellow","s":"2"},
{"t":24,"r":14.19,"v":"salmon","s":"1"},{"t":25,"r":14.19,"v":"salmon","s":"1"},{"t":26,"r":14.19,"v":"salmon","s":"1"},{"t":27,"r":14.19,"v":"salmon","s":"2"},{"t":28,"r":14.19,"v":"salmon","s":"2"},
{"t":32,"r":14.19,"v":"magenta","s":"1"},{"t":33,"r":14.19,"v":"magenta","s":"1"},{"t":34,"r":14.19,"v":"magenta","s":"1"},{"t":35,"r":14.19,"v":"magenta","s":"2"},{"t":36,"r":14.19,"v":"magenta","s":"2"},
{"t":40,"r":14.19,"v":"violet","s":"1"},{"t":41,"r":14.19,"v":"violet","s":"1"},{"t":42,"r":14.19,"v":"violet","s":"1"},{"t":43,"r":14.19,"v":"violet","s":"2"},{"t":44,"r":14.19,"v":"violet","s":"2"},
{"t":0,"r":15.125,"v":"violet","s":"1"},{"t":1,"r":15.125,"v":"violet","s":"4"},{"t":2,"r":15.125,"v":"violet","s":"7"},{"t":3,"r":15.125,"v":"violet","s":"0"},{"t":4,"r":15.125,"v":"violet","s":"3"},
{"t":5,"r":15.125,"v":"green","s":"2"},{"t":6,"r":15.125,"v":"green","s":"5"},{"t":7,"r":15.125,"v":"green","s":"8"},{"t":8,"r":15.125,"v":"green","s":"1"},{"t":9,"r":15.125,"v":"green","s":"4"},{"t":10,"r":15.125,"v":"green","s":"7"},{"t":11,"r":15.125,"v":"green","s":"0"},{"t":12,"r":15.125,"v":"green","s":"3"},
{"t":13,"r":15.125,"v":"yellow","s":"2"},{"t":14,"r":15.125,"v":"yellow","s":"5"},{"t":15,"r":15.125,"v":"yellow","s":"8"},{"t":16,"r":15.125,"v":"yellow","s":"1"},{"t":17,"r":15.125,"v":"yellow","s":"4"},{"t":18,"r":15.125,"v":"yellow","s":"7"},{"t":19,"r":15.125,"v":"yellow","s":"0"},{"t":20,"r":15.125,"v":"yellow","s":"3"},
{"t":21,"r":15.125,"v":"salmon","s":"2"},{"t":22,"r":15.125,"v":"salmon","s":"5"},{"t":23,"r":15.125,"v":"salmon","s":"8"},{"t":24,"r":15.125,"v":"salmon","s":"1"},{"t":25,"r":15.125,"v":"salmon","s":"4"},{"t":26,"r":15.125,"v":"salmon","s":"7"},{"t":27,"r":15.125,"v":"salmon","s":"0"},{"t":28,"r":15.125,"v":"salmon","s":"3"},
{"t":29,"r":15.125,"v":"magenta","s":"2"},{"t":30,"r":15.125,"v":"magenta","s":"5"},{"t":31,"r":15.125,"v":"magenta","s":"8"},{"t":32,"r":15.125,"v":"magenta","s":"1"},{"t":33,"r":15.125,"v":"magenta","s":"4"},{"t":34,"r":15.125,"v":"magenta","s":"7"},{"t":35,"r":15.125,"v":"magenta","s":"0"},{"t":36,"r":15.125,"v":"magenta","s":"3"},
{"t":37,"r":15.125,"v":"violet","s":"2"},{"t":38,"r":15.125,"v":"violet","s":"5"},{"t":39,"r":15.125,"v":"violet","s":"8"},{"t":40,"r":15.125,"v":"violet","s":"1"},{"t":41,"r":15.125,"v":"violet","s":"4"},{"t":42,"r":15.125,"v":"violet","s":"7"},{"t":43,"r":15.125,"v":"violet","s":"0"},{"t":44,"r":15.125,"v":"violet","s":"3"},
{"t":45,"r":15.125,"v":"green","s":"2"},{"t":46,"r":15.125,"v":"green","s":"5"},{"t":47,"r":15.125,"v":"green","s":"8"}
],
"labels":[
{"t":-9.857,"r":-3,"v":"green","s":"2026-07-06"},{"t":-9.857,"r":-2.06,"v":"olive","s":"Local Time"},
{"t":-0.36,"r":-3,"v":"green","s":"M"},{"t":10.64,"r":-3,"v":"yellow","s":"Tuesday, 7"},{"t":34.64,"r":-3,"v":"salmon","s":"Wednesday, 8"},{"t":58.64,"r":-3,"v":"magenta","s":"Thursday, 9"},{"t":74.64,"r":-3,"v":"violet","s":"Friday, 10"},
{"t":-9,"r":-0.1,"v":"white","s":"Cloud Cover:"},{"t":-9,"r":0.9,"v":"white","s":"ECMWF Cloud:"},{"t":-9,"r":1.9,"v":"white","s":"Transparency:"},{"t":-9,"r":2.9,"v":"white","s":"Seeing:"},{"t":-9,"r":3.9,"v":"white","s":"Darkness:"},
{"t":-9,"r":6.9,"v":"white","s":"Smoke:"},{"t":-9,"r":7.9,"v":"white","s":"Wind:"},{"t":-9,"r":8.9,"v":"white","s":"Humidity:"},{"t":-9,"r":9.9,"v":"white","s":"Temperature:"},
{"t":-10,"r":12.06,"v":"red","s":"EXTENDED Forecast. Each block is 3 hours. (A sponsored feature)"},
{"t":-9.857,"r":13.25,"v":"violet","s":"2026-07-10"},{"t":-9.857,"r":14.19,"v":"olive","s":"Local Time"},
{"t":-0.36,"r":13.25,"v":"violet","s":"Fri, 10"},{"t":7.2,"r":13.25,"v":"green","s":"Sat, 11"},{"t":15.25,"r":13.25,"v":"yellow","s":"Sun, 12"},{"t":23.2,"r":13.25,"v":"salmon","s":"Mon, 13"},{"t":31.2,"r":13.25,"v":"magenta","s":"Tue, 14"},{"t":39.2,"r":13.25,"v":"violet","s":"Wed, 15"},{"t":44.64,"r":13.25,"v":"green","s":"Th"},
{"t":-9,"r":16.15,"v":"white","s":"Cloud Cover:"},{"t":-9,"r":17.15,"v":"white","s":"ECMWF Cloud:"},{"t":-9,"r":18.15,"v":"white","s":"Darkness:"},
{"t":13.5,"r":20.75,"v":"white","s":"© 2026 Attilla Danko"},{"t":27.64,"r":20.75,"v":"white","s":"forecast: A.Rahill"},{"t":40.5,"r":20.75,"v":"white","s":"data:"}
],
"titles":[{"t":26.43,"r":-4.44,"v":"yellow","s":"Boston"},{"t":32.43,"r":-4.44,"v":"aqua","s":"Clear Sky Chart"}],
"small":[{"t":-9.79,"r":-1.28,"v":"olive","s":"(GMT -4+0)"},{"t":-9.79,"r":14.94,"v":"olive","s":"(GMT -4+0)"}],
"side":[{"t":-9.57,"r":2,"v":"yellow","s":"– – Sky – –"},{"t":-9.57,"r":8.5,"v":"white","s":"– Ground –"},{"t":-9.57,"r":17.25,"v":"yellow","s":"– Sky –"}],
"logo":[{"t":49.2,"r":20.53,"v":"ink","s":"Environment"},{"t":49.2,"r":21.03,"v":"ink","s":"Canada"},{"t":53.86,"r":20.53,"v":"ink","s":"Environnement"},{"t":53.86,"r":21.03,"v":"ink","s":"Canada"}],
"leaf":[{"t":47.25,"r":20.84,"v":"red"}]
},
"encoding":{
"x":{"field":"t","type":"quantitative","scale":{"domain":[-10,81.7143],"nice":false,"zero":false},"axis":null},
"y":{"field":"r","type":"quantitative","scale":{"domain":[-5.1875,21.3125],"reverse":true,"nice":false,"zero":false},"axis":null},
"color":{"field":"v","type":"nominal","legend":null,"scale":{
"domain":["o100","o90","o80","o75","o70","o65","o60","o55","o50","o45","o40","o30","o25","o20","o10","o0","d0","d1","d2","d3","d4","d5","d6","cy","or","s1","s2","s3","s4","s5","s6","ho","hy","hd","hr","hf","hl","hm","hc","ht","to","td","tf","tr","sky","ground","red","white","green","yellow","salmon","magenta","violet","olive","aqua","ink"],
"range":["#fdfdfd","#ebebeb","#c2c2c2","#b6f4f4","#aeecec","#98d6d6","#81bdbd","#77b5f5","#6aaae8","#60a0e2","#4f8fd0","#2e6eae","#1f5f9f","#135490","#0c4a8c","#003e7e","#000050","#000066","#000088","#0000a8","#0020c0","#0040c8","#0060e0","#00e0ff","#ffa830","#ffc060","#ffd28a","#ffe0a8","#ffe8c0","#fff0d8","#fff8ec","#ff8800","#ffc800","#b80000","#e60000","#ff3300","#99ff66","#55ffaa","#00ffee","#80c0c0","#ffa000","#ff5e00","#ff2200","#e00000","#0060e0","#556b00","#ff0000","#ffffff","#66ff66","#ffff00","#ff7070","#ff00ff","#7070ff","#c8c800","#00c8c8","#000000"]
}}
},
"layer":[
{"data":{"name":"bands"},"mark":{"type":"rect"},"encoding":{"x2":{"field":"t2"},"y2":{"field":"r2"}}},
{"data":{"name":"leaf"},"mark":{"type":"point","filled":true,"opacity":1,"size":70,"shape":"M0,-1 L0.25,-0.55 L0.5,-0.65 L0.4,-0.15 L0.9,-0.35 L0.75,0 L1,0.1 L0.6,0.45 L0.08,0.4 L0.08,0.9 L-0.08,0.9 L-0.08,0.4 L-0.6,0.45 L-1,0.1 L-0.75,0 L-0.9,-0.35 L-0.4,-0.15 L-0.5,-0.65 L-0.25,-0.55 Z"}},
{"data":{"name":"cells"},"mark":{"type":"square","size":144,"opacity":1}},
{"data":{"name":"links"},"mark":{"type":"rect","width":2,"height":6}},
{"data":{"name":"strips"},"mark":{"type":"rect","width":3,"height":12}},
{"data":{"name":"midnights"},"mark":{"type":"rect","width":2},"encoding":{"y2":{"field":"r2"}}},
{"data":{"name":"digits"},"mark":{"type":"text","font":"Liberation Mono","fontSize":15,"align":"center","baseline":"middle"},"encoding":{"text":{"field":"s"}}},
{"data":{"name":"labels"},"mark":{"type":"text","font":"Liberation Mono","fontSize":15,"align":"left","baseline":"middle"},"encoding":{"text":{"field":"s"}}},
{"data":{"name":"titles"},"mark":{"type":"text","font":"Liberation Mono","fontSize":20,"fontWeight":"bold","align":"left","baseline":"middle"},"encoding":{"text":{"field":"s"}}},
{"data":{"name":"small"},"mark":{"type":"text","font":"Liberation Mono","fontSize":8,"fontWeight":"bold","align":"left","baseline":"middle"},"encoding":{"text":{"field":"s"}}},
{"data":{"name":"side"},"mark":{"type":"text","font":"Liberation Mono","fontSize":10,"angle":270,"align":"center","baseline":"middle"},"encoding":{"text":{"field":"s"}}},
{"data":{"name":"logo"},"mark":{"type":"text","font":"Liberation Sans","fontSize":9,"align":"left","baseline":"middle"},"encoding":{"text":{"field":"s"}}}
]
}
